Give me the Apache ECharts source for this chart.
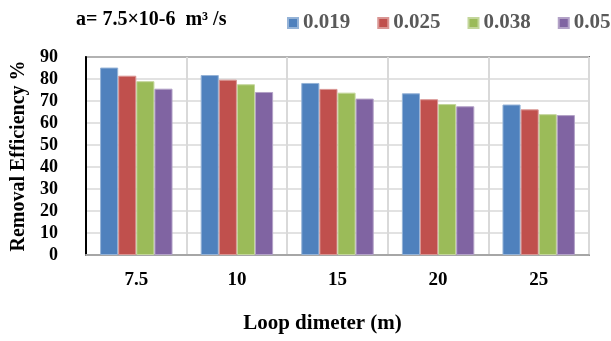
<!DOCTYPE html>
<html>
<head>
<meta charset="utf-8">
<script src="https://cdn.jsdelivr.net/npm/echarts@6/dist/echarts.min.js"></script>
<style>html,body{margin:0;padding:0;background:#fff;}#c{width:611px;height:341px;}</style>
</head>
<body>
<div id="c"></div>
<script>
const categories = ['7.5', '10', '15', '20', '25'];
const seriesNames = ['0.019', '0.025', '0.038', '0.05'];
const s019 = [85.2, 81.8, 78.2, 73.5, 68.4];
const s025 = [81.5, 79.7, 75.5, 70.8, 66.2];
const s038 = [79.0, 77.6, 73.8, 68.6, 64.0];
const s05  = [75.6, 74.1, 71.1, 67.6, 63.6];
const yTicks = [0, 10, 20, 30, 40, 50, 60, 70, 80, 90];
const colors = ['#4F81BD', '#C0504D', '#9BBB59', '#8064A2'];
const borders = ['#95B3D7', '#D99694', '#C3D69B', '#B3A2C7'];
const serif = '"Liberation Serif", "Times New Roman", serif';

const chart = echarts.init(document.getElementById('c'), null, {renderer: 'canvas'});
const values = [s019, s025, s038, s05];
chart.setOption({
  animation: false,
  title: {
    text: 'a= 7.5×10-6  m³ /s',
    left: 76, top: 10, padding: 0,
    textStyle: {fontFamily: serif, fontWeight: 'bold', fontSize: 20, lineHeight: 20, color: '#000'}
  },
  legend: {
    left: 287, top: 12, padding: 0,
    itemWidth: 10, itemHeight: 10, itemGap: 27,
    icon: 'rect',
    data: seriesNames,
    textStyle: {fontFamily: serif, fontWeight: 'bold', fontSize: 21, lineHeight: 22, color: '#595959', padding: [0,0,0,0]}
  },
  grid: {left: 86, right: 22, top: 57, bottom: 86, show: true, borderColor: '#000', borderWidth: 1.5},
  xAxis: {
    type: 'category',
    data: categories,
    boundaryGap: true,
    name: 'Loop dimeter (m)',
    nameLocation: 'middle',
    nameGap: 58,
    nameTextStyle: {fontFamily: serif, fontWeight: 'bold', fontSize: 21, color: '#000', padding: [0, 30, 0, 0]},
    axisLine: {show: true, lineStyle: {color: '#A6A6A6', width: 2}},
    axisTick: {show: false},
    splitLine: {show: true, lineStyle: {color: '#D9D9D9', width: 2}},
    axisLabel: {fontFamily: serif, fontWeight: 'bold', fontSize: 19, color: '#000', margin: 16}
  },
  yAxis: {
    type: 'value',
    min: 0, max: 90, interval: 10,
    name: 'Removal Efficiency %',
    nameLocation: 'middle',
    nameGap: 53,
    nameTextStyle: {fontFamily: serif, fontWeight: 'bold', fontSize: 20, color: '#000'},
    axisLine: {show: true, lineStyle: {color: '#000', width: 2}},
    axisTick: {show: false},
    splitLine: {show: true, lineStyle: {color: '#D9D9D9', width: 1.5}},
    axisLabel: {fontFamily: serif, fontWeight: 'bold', fontSize: 18, color: '#000', margin: 28,
      formatter: v => yTicks.includes(v) ? String(v) : ''}
  },
  series: seriesNames.map((n, i) => ({
    name: n,
    type: 'bar',
    data: values[i],
    barGap: '0%',
    barCategoryGap: '28%',
    itemStyle: {color: colors[i], borderColor: borders[i], borderWidth: 1}
  }))
});
</script>
</body>
</html>
